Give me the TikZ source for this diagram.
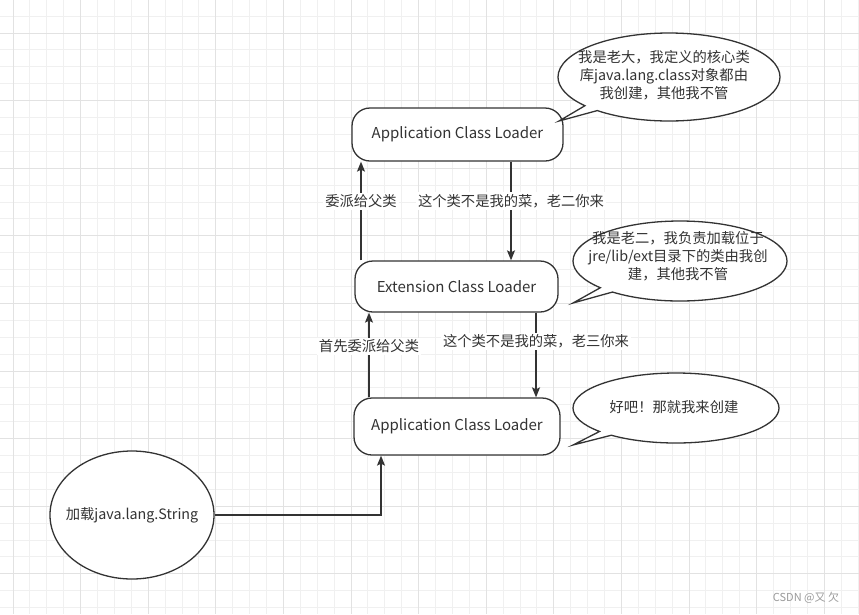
\documentclass[tikz,border=0pt]{standalone}
\usepackage{fontspec}
\setmainfont{Noto Sans CJK SC}
\usetikzlibrary{shapes.geometric,shapes.callouts,arrows.meta}
\definecolor{ink}{HTML}{333333}
\definecolor{gridminor}{HTML}{F0F0F0}
\definecolor{gridmajor}{HTML}{E2E2E2}
\definecolor{mark}{HTML}{9A9A9A}
\begin{document}
\begin{tikzpicture}[x=1pt,y=-1pt,
  txt/.style={text=ink, font=\fontsize{14.3}{18}\selectfont, align=center, inner sep=0pt},
  loader/.style={draw=ink, line width=1.3pt, fill=white, rounded corners=18pt, txt, font=\fontsize{15}{18}\selectfont},
  bubble/.style={ellipse callout, draw=ink, line width=1.3pt, fill=white, inner sep=0pt, callout pointer arc=9},
  edgelbl/.style={txt, fill=white, inner sep=2pt},
  conn/.style={draw=ink, line width=1.3pt, -{Stealth[length=10pt,width=8pt,inset=2pt]}}]
\useasboundingbox (0,0) rectangle (859,614);
\fill[white] (0,0) rectangle (859,614);
% grid
\foreach \i in {0,...,51} {
  \draw[gridminor, line width=1pt] ({-3.9+16.9*\i},0) -- ({-3.9+16.9*\i},614);
}
\foreach \i in {0,...,37} {
  \draw[gridminor, line width=1pt] (0,{-0.8+16.9*\i}) -- (859,{-0.8+16.9*\i});
}
\foreach \i in {0,...,12} {
  \draw[gridmajor, line width=1pt] ({13+67.6*\i},0) -- ({13+67.6*\i},614);
}
\foreach \i in {0,...,8} {
  \draw[gridmajor, line width=1pt] (0,{33+67.6*\i}) -- (859,{33+67.6*\i});
}

% loaders
\node[loader, minimum width=211pt, minimum height=53pt] (top) at (457.5,134.5) {Application Class Loader};
\node[loader, minimum width=203pt, minimum height=51pt] (mid) at (456.5,286.5) {Extension Class Loader};
\node[loader, minimum width=206pt, minimum height=57pt] (bot) at (457,426.5) {Application Class Loader};

% start ellipse
\node[ellipse, draw=ink, line width=1.3pt, fill=white, minimum width=164pt, minimum height=128pt, inner sep=0pt] (str) at (132,515) {};
\node[txt] (strtxt) at (str.center) {加载java.lang.String};

% connector x positions
\coordinate (xa) at (361,0);
\coordinate (xb) at (511,0);
\coordinate (xc) at (369,0);
\coordinate (xd) at (536,0);
\coordinate (xe) at (381,0);

\draw[conn] (mid.north -| xa) -- node[edgelbl, pos=0.6] (l1) {委派给父类} (top.south -| xa);
\draw[conn] (top.south -| xb) -- node[edgelbl, pos=0.4] (l2) {这个类不是我的菜，老二你来} (mid.north -| xb);
\draw[conn] (bot.north -| xc) -- node[edgelbl, pos=0.6] (l3) {首先委派给父类} (mid.south -| xc);
\draw[conn] (mid.south -| xd) -- node[edgelbl, pos=0.34] (l4) {这个类不是我的菜，老三你来} (bot.north -| xd);
\draw[conn] (str.east) -| (bot.south -| xe);

% speech bubbles
\node[bubble, minimum width=222pt, minimum height=88pt, callout absolute pointer={(559,121)}] (b1) at (669,77) {};
\node[txt] (t1) at (664,75) {我是老大，我定义的核心类\\库java.lang.class对象都由\\我创建，其他我不管};
\node[bubble, minimum width=214pt, minimum height=80pt, callout absolute pointer={(573,303)}] (b2) at (680,261) {};
\node[txt] (t2) at (678,256) {我是老二，我负责加载位于\\jre/lib/ext目录下的类由我创\\建，其他我不管};
\node[bubble, minimum width=206pt, minimum height=70pt, callout absolute pointer={(573,445)}] (b3) at (676,408) {};
\node[txt] (t3) at (674,407) {好吧！那就我来创建};

% watermark
\node[text=mark, font=\fontsize{11}{13}\selectfont, inner sep=0pt] (wm) at (806,598) {CSDN @又 欠};
\end{tikzpicture}
\end{document}
